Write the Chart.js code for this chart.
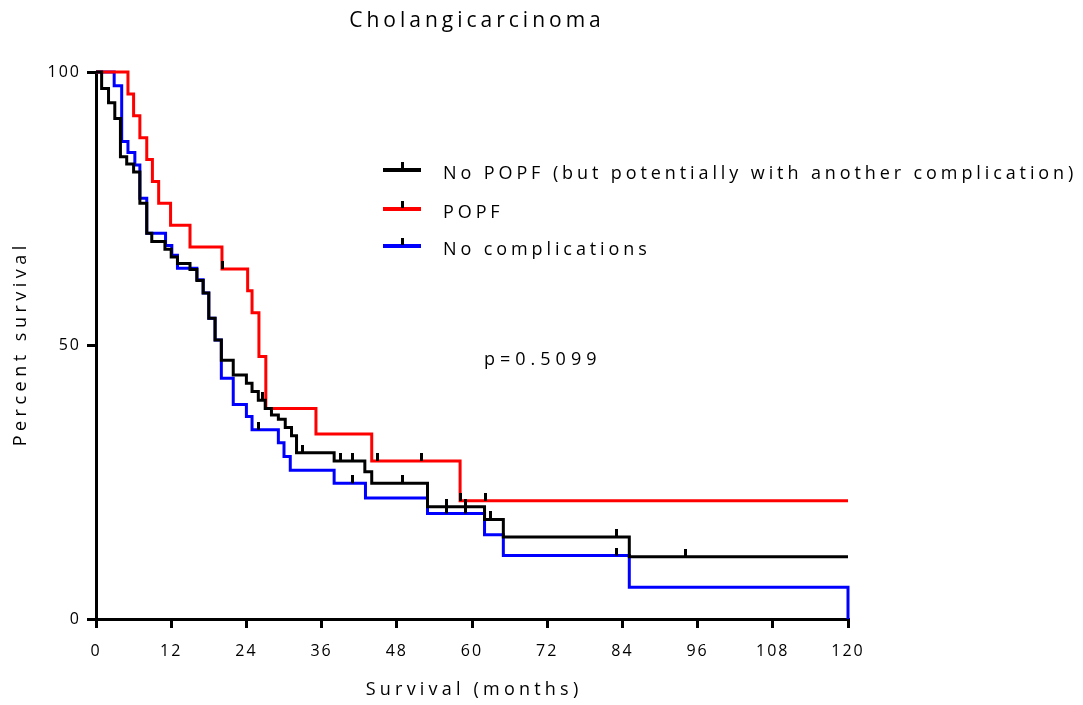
<!DOCTYPE html>
<html>
<head>
<meta charset="utf-8">
<script src="https://cdn.jsdelivr.net/npm/chart.js@4.4.1/dist/chart.umd.min.js"></script>
<style>
  html, body { margin: 0; padding: 0; background: #fff; }
</style>
</head>
<body>
<canvas id="km" width="1083" height="705"></canvas>
<script>
// Kaplan-Meier steps: time of each drop (months) and survival after it (%)
const noPopfTimes = [0, 0.9, 2, 3, 3.9, 4.9, 6, 7, 8.1, 8.9, 11, 12, 13, 15, 16.1, 17.1, 18, 19, 20, 21.9, 24, 24.9, 25.9, 27, 28, 29.1, 30.2, 31.2, 32, 38, 42.9, 44, 52.9, 62, 65, 85.1, 120];
const noPopfSurv  = [100, 97, 94.4, 91.5, 84.5, 83.2, 81.7, 76, 70.5, 69, 67.6, 66.2, 65, 63.9, 61.9, 59.6, 55, 51, 47.3, 44.6, 43.1, 41.6, 40, 38.5, 37.3, 36.5, 35, 33.5, 30.4, 28.9, 26.9, 24.8, 20.5, 18.2, 15, 11.4, 11.4];

const popfTimes = [0, 5.1, 6, 7, 8.1, 9, 10, 11.9, 15, 20.1, 24.2, 24.9, 26, 27.1, 35.1, 44, 58.1, 120];
const popfSurv  = [100, 96, 92, 88, 84, 80, 76, 72, 68, 64, 60, 56, 48, 38.5, 33.8, 28.9, 21.6, 21.6];

const noCompTimes = [0, 2.9, 4.1, 5.1, 6.2, 7, 8.1, 11.1, 12.1, 13, 16.1, 17.1, 18, 19, 20, 21.9, 24, 24.9, 29.1, 30, 31, 38, 43, 52.9, 62, 65, 85.1, 120];
const noCompSurv  = [100, 97.5, 87.3, 85.3, 83, 76.9, 70.5, 68.3, 66.5, 64.1, 62, 59.6, 55, 51, 44, 39.2, 37, 34.6, 32.2, 29.7, 27.2, 24.8, 22.1, 19.3, 15.4, 11.6, 5.8, 0];

// censored observations (months)
const noPopfCensor = [26.6, 33, 39, 41, 48.9, 56, 59, 63, 83, 94];
const popfCensor   = [20.2, 44.9, 52, 58.2, 62.1];
const noCompCensor = [26, 41, 56, 59, 83];

const xTicks = [0, 12, 24, 36, 48, 60, 72, 84, 96, 108, 120];
const yTicks = [0, 50, 100];

const seriesNames = ['No POPF (but potentially with another complication)', 'POPF', 'No complications'];
const seriesColors = ['#000000', '#ff0000', '#0000ff'];

const FONT = '"Open Sans", "Noto Sans", sans-serif';

function steps(times, surv) {
  return times.map((t, i) => ({ x: t, y: surv[i] }));
}

// survival value of a step curve at time t
function survAt(times, surv, t) {
  let v = surv[0];
  for (let i = 0; i < times.length; i++) {
    if (times[i] <= t) v = surv[i];
  }
  return v;
}

function censorPoints(censor, times, surv) {
  return censor.map(t => ({ x: t, y: survAt(times, surv, t) }));
}

// small vertical tick standing on the curve
const tickMark = document.createElement('canvas');
tickMark.width = 3;
tickMark.height = 16;
const tctx = tickMark.getContext('2d');
tctx.fillStyle = '#000';
tctx.fillRect(0, 0, 3, 8);

function lineSet(label, data, color, order) {
  return {
    label: label,
    data: data,
    borderColor: color,
    backgroundColor: color,
    borderWidth: 3,
    pointRadius: 0,
    stepped: 'before',
    fill: false,
    tension: 0,
    clip: false,
    order: order
  };
}

function censorSet(data) {
  return {
    label: 'censored',
    data: data,
    showLine: false,
    pointStyle: tickMark,
    pointRadius: 4,
    clip: false,
    order: 0
  };
}

function spacedText(ctx, text, x, y, size, spacing, align) {
  ctx.font = size + 'px ' + FONT;
  ctx.letterSpacing = spacing + 'px';
  ctx.textBaseline = 'middle';
  ctx.textAlign = 'left';
  let w = ctx.measureText(text).width - spacing;
  let sx = x;
  if (align === 'center') sx = x - w / 2;
  ctx.fillText(text, sx, y);
}

const textPlugin = {
  id: 'kmText',
  beforeDraw(chart) {
    chart.ctx.letterSpacing = '2px';
  },
  afterDraw(chart) {
    const ctx = chart.ctx;
    ctx.save();
    ctx.fillStyle = '#000';
    spacedText(ctx, 'Cholangicarcinoma', 475, 21, 21, 4, 'center');
    spacedText(ctx, 'Survival (months)', 472, 690, 18, 4.2, 'center');
    ctx.save();
    ctx.translate(21, 346);
    ctx.rotate(-Math.PI / 2);
    spacedText(ctx, 'Percent survival', 0, 0, 18, 4.5, 'center');
    ctx.restore();

    // legend
    const rows = [170, 209, 246];
    rows.forEach((y, i) => {
      ctx.strokeStyle = seriesColors[i];
      ctx.lineWidth = 4;
      ctx.beginPath();
      ctx.moveTo(383, y);
      ctx.lineTo(421, y);
      ctx.stroke();
      ctx.fillStyle = '#000';
      ctx.fillRect(401, y - 8, 3, 7);
      spacedText(ctx, seriesNames[i], 443, y + 4, 18, 3.9, 'left');
    });

    spacedText(ctx, 'p=0.5099', 484, 360, 18, 5, 'left');
    ctx.restore();
    ctx.letterSpacing = '0px';
  }
};

new Chart(document.getElementById('km'), {
  type: 'line',
  data: {
    datasets: [
      censorSet(censorPoints(noPopfCensor, noPopfTimes, noPopfSurv)),
      censorSet(censorPoints(popfCensor, popfTimes, popfSurv)),
      censorSet(censorPoints(noCompCensor, noCompTimes, noCompSurv)),
      lineSet(seriesNames[0], steps(noPopfTimes, noPopfSurv), seriesColors[0], 1),
      lineSet(seriesNames[1], steps(popfTimes, popfSurv), seriesColors[1], 2),
      lineSet(seriesNames[2], steps(noCompTimes, noCompSurv), seriesColors[2], 3)
    ]
  },
  options: {
    responsive: false,
    animation: false,
    devicePixelRatio: 1,
    layout: { padding: { left: 0, top: 72, right: 235, bottom: 0 } },
    plugins: {
      legend: { display: false },
      tooltip: { enabled: false }
    },
    scales: {
      x: {
        type: 'linear',
        min: 0,
        max: 120,
        afterBuildTicks: s => { s.ticks = xTicks.map(v => ({ value: v })); },
        afterFit: s => { s.height = 86; },
        ticks: { color: '#000', font: { family: FONT, size: 16 }, padding: 14, maxRotation: 0 },
        grid: { drawOnChartArea: false, drawTicks: true, tickLength: 9, color: '#000', lineWidth: 3 },
        border: { display: true, color: '#000', width: 3 }
      },
      y: {
        min: 0,
        max: 100,
        afterBuildTicks: s => { s.ticks = yTicks.map(v => ({ value: v })); },
        afterFit: s => { s.width = 96; },
        ticks: { color: '#000', font: { family: FONT, size: 16 }, padding: 6 },
        grid: { drawOnChartArea: false, drawTicks: true, tickLength: 9, color: '#000', lineWidth: 3 },
        border: { display: true, color: '#000', width: 3 }
      }
    }
  },
  plugins: [textPlugin]
});
</script>
</body>
</html>
